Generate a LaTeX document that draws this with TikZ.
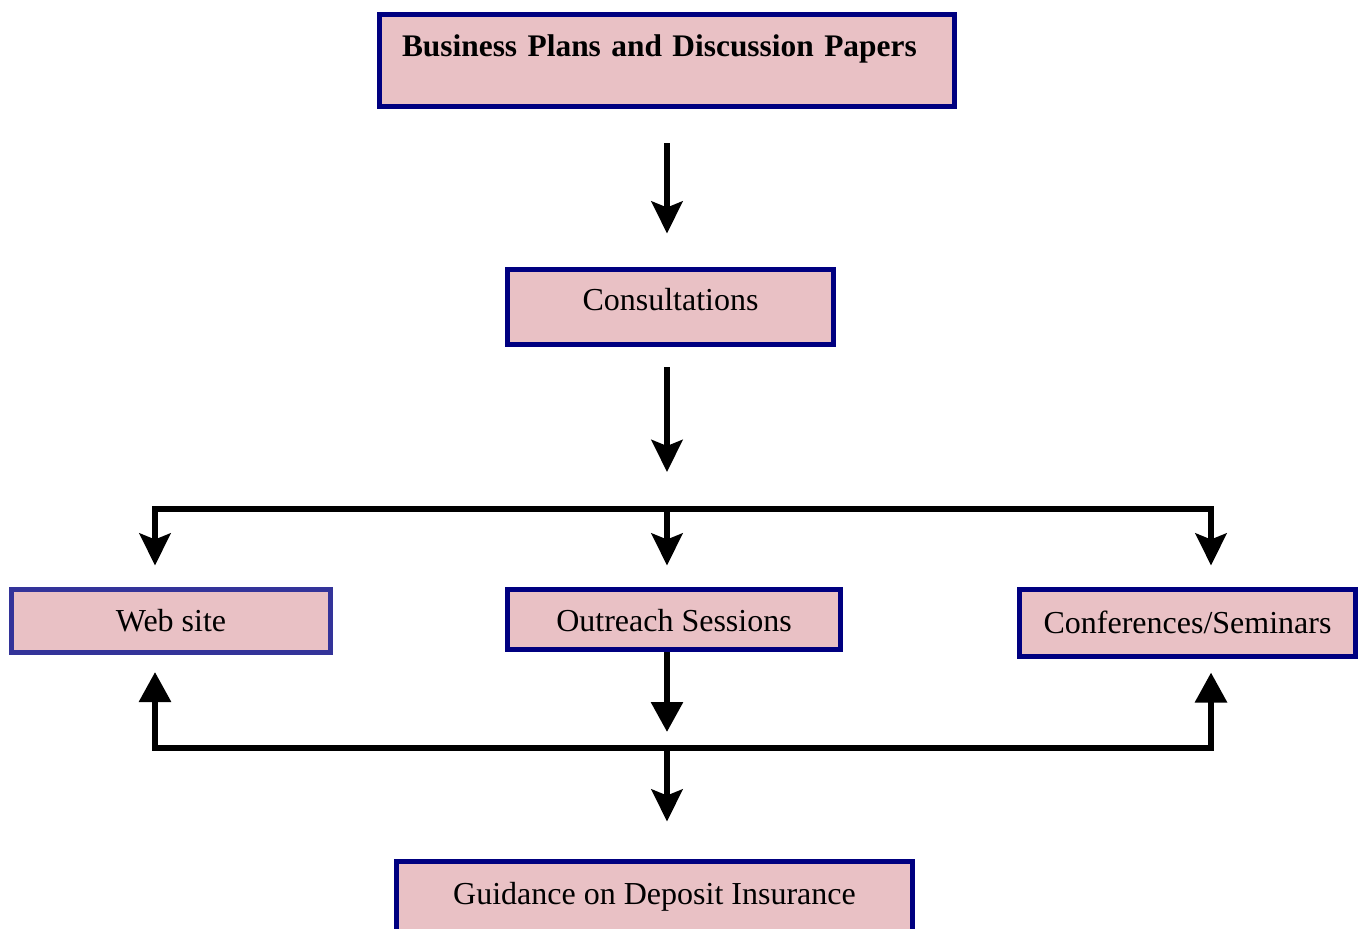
\documentclass[tikz,border=0pt]{standalone}
\usepackage{fontspec}
\setmainfont{Liberation Serif}
\usepackage{tikz}
\usetikzlibrary{calc, arrows.meta}

\definecolor{boxpink}{RGB}{233,193,197}
\definecolor{boxnavy}{RGB}{0,0,128}
\definecolor{boxblue}{RGB}{51,51,153}

\begin{document}
\begin{tikzpicture}[x=0.5pt, y=-0.5pt,
    box/.style={draw=boxnavy, fill=boxpink, line width=2.5pt, inner sep=0pt, text height=14pt, font=\fontsize{16}{19}\selectfont},
    link/.style={line width=3pt, -{Stealth[length=16pt, width=15.5pt, inset=3pt]}},
    flow/.style={line width=3pt, -{Triangle[length=15pt, width=15.5pt]}}]
      \useasboundingbox (0,0) rectangle (1364,929);
      \node[box, minimum width=287.5pt, minimum height=46pt, text width=265pt, inner xsep=11.25pt, align=left, text depth=17.5pt, font=\fontsize{15.7}{19}\selectfont\bfseries] (plans) at (667,60.5) {Business Plans and Discussion Papers};
      \node[box, minimum width=163pt, minimum height=37.5pt, text depth=10pt] (consult) at (670.5,307) {Consultations};
      \node[box, draw=boxblue, minimum width=159.5pt, minimum height=31.5pt, text depth=3pt] (web) at (171,621) {Web site};
      \node[box, minimum width=166.5pt, minimum height=30pt, text depth=1.5pt] (outreach) at (674,619.5) {Outreach Sessions};
      \node[box, minimum width=168pt, minimum height=33.5pt, text depth=4pt] (conf) at (1187.5,623) {Conferences/Seminars};
      \node[box, minimum width=258pt, minimum height=35.5pt, text depth=7pt] (guide) at (654.5,897) {Guidance on Deposit Insurance};
      \coordinate (split) at (667,509);
      \coordinate (merge) at (667,748);
      \draw[link, shorten <=17.25pt, shorten >=16.75pt] (plans.south) -- (plans.south |- consult.north);
      \draw[link, shorten <=10.25pt, shorten >=18.5pt] (consult.south -| split) -- (split);
      \foreach \n/\s in {web/-8pt, outreach/-3.5pt, conf/11.75pt}
          \draw[link, shorten >=10.75pt] (split) -| ([xshift=\s]\n.north);
      \draw[flow, shorten >=8pt] (outreach.south -| merge) -- (merge);
      \foreach \n/\s/\g in {web/-8pt/8.5pt, conf/11.75pt/6.75pt}
          \draw[flow, shorten >=\g] (merge) -| ([xshift=\s]\n.south);
      \draw[link, shorten >=18.75pt] (merge) -- (merge |- guide.north);
\end{tikzpicture}
\end{document}
